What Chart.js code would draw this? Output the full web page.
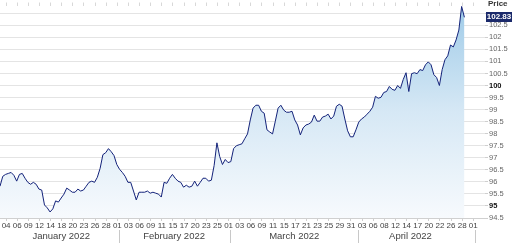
<!DOCTYPE html>
<html lang="en">
<head>
    <meta charset="UTF-8">
    <title>Price - January to April 2022</title>
    <script src="https://cdn.jsdelivr.net/npm/chart.js"></script>
    <style>
        body {
            margin: 0;
            padding: 0;
            background: #ffffff;
            font-family: "Liberation Sans", Arial, sans-serif;
        }
        .wrap {
            position: relative;
            width: 512px;
            height: 243px;
        }
        .price-title {
            position: absolute;
            left: 488px;
            top: -1px;
            font-size: 8px;
            font-weight: bold;
            color: #333;
        }
        .last-box {
            position: absolute;
            left: 486px;
            width: 26px;
            height: 10px;
            line-height: 10px;
            background: #1b2a6b;
            color: #fff;
            font-size: 8px;
            font-weight: bold;
            text-align: center;
        }
    </style>
</head>
<body>
<div class="wrap">
    <canvas id="chart"></canvas>
    <div class="price-title">Price</div>
    <div id="last" class="last-box">102.83</div>
</div>
<script>
    // trading-day axis: one unit = one trading day, data sampled every half day
    const startDay = -0.5;
    const stepDays = 0.5;
    const prices = [
        95.82, 96.23, 96.31, 96.35, 96.39, 96.27, 96.03, 96.31, 96.35, 96.15,
        95.98, 95.90, 95.98, 95.90, 95.70, 95.66, 95.04, 94.92, 94.75, 94.88,
        95.21, 95.16, 95.33, 95.49, 95.74, 95.66, 95.57, 95.57, 95.70, 95.62,
        95.66, 95.82, 95.98, 96.03, 95.98, 96.19, 96.56, 97.13, 97.21, 97.38,
        97.25, 97.09, 96.72, 96.52, 96.39, 96.23, 95.98, 95.98, 95.62, 95.25,
        95.57, 95.57, 95.57, 95.62, 95.53, 95.57, 95.53, 95.49, 95.37, 95.98,
        95.94, 96.15, 96.31, 96.15, 96.03, 95.98, 95.78, 95.86, 95.78, 95.82,
        96.03, 95.82, 95.98, 96.15, 96.15, 96.03, 96.07, 96.68, 97.62, 97.05,
        96.72, 96.93, 96.80, 96.84, 97.38, 97.50, 97.54, 97.58, 97.79, 97.99,
        98.57, 99.06, 99.18, 99.18, 98.93, 98.85, 98.16, 98.07, 97.99, 98.52,
        99.06, 99.18, 98.98, 98.89, 98.89, 98.93, 98.57, 98.36, 97.95, 98.24,
        98.36, 98.40, 98.48, 98.77, 98.52, 98.52, 98.69, 98.73, 98.81, 98.61,
        98.73, 99.14, 99.22, 99.14, 98.61, 98.12, 97.87, 97.87, 98.16, 98.48,
        98.61, 98.69, 98.81, 98.93, 99.10, 99.55, 99.47, 99.51, 99.71, 99.75,
        99.96, 99.84, 99.80, 100.00, 99.88, 100.25, 100.53, 99.75, 100.49, 100.53,
        100.49, 100.66, 100.62, 100.86, 100.98, 100.86, 100.45, 100.33, 100.00, 100.66,
        101.07, 101.23, 101.68, 101.60, 101.89, 102.30, 103.28, 102.83
    ];
    const lastPrice = 102.83;

    const dayLabels = ['04','06','09','12','14','18','20','23','26','28',
                       '01','03','06','09','11','15','17','20','23','25',
                       '01','03','06','09','11','15','17','21','23','25','29','31',
                       '03','06','08','12','14','17','20','22','26','28',
                       '01'];
    const firstLabelDay = 0.6;
    const months = ['January 2022', 'February 2022', 'March 2022', 'April 2022'];
    const monthCenters = [10.5, 30.8, 52.4, 73.3];
    const monthEdges = [21, 41, 64, 85];
    const boldPrices = [95, 100];

    const yMin = 94.5, yMax = 103.32, yStep = 0.5;
    const xMin = -0.5, xMax = 86.7;

    const points = prices.map((p, i) => ({ x: startDay + i * stepDays, y: p }));
    const dayTicks = dayLabels.map((l, i) => firstLabelDay + i * 2);
    const monthTicks = monthCenters.concat(monthEdges).sort((a, b) => a - b);

    const FONT = '"Liberation Sans", Arial, sans-serif';
    const isBold = (ctx) => !!(ctx && ctx.tick && boldPrices.includes(ctx.tick.value));

    const lastLabel = {
        id: 'lastLabel',
        afterDraw(chart) {
            const y = chart.scales.y.getPixelForValue(lastPrice);
            document.getElementById('last').style.top = (y - 5) + 'px';
        }
    };

    new Chart(document.getElementById('chart'), {
        type: 'line',
        data: {
            datasets: [{
                data: points,
                borderColor: '#14237a',
                borderWidth: 1,
                pointRadius: 0,
                tension: 0,
                fill: 'start',
                backgroundColor: (ctx) => {
                    const area = ctx.chart.chartArea;
                    if (!area) return 'rgba(200,225,242,0.5)';
                    const g = ctx.chart.ctx.createLinearGradient(0, area.top, 0, area.bottom);
                    g.addColorStop(0, '#9fcbe8');
                    g.addColorStop(0.5, '#d6e8f5');
                    g.addColorStop(1, '#f7fafd');
                    return g;
                }
            }]
        },
        options: {
            animation: false,
            responsive: true,
            maintainAspectRatio: false,
            layout: { padding: 0 },
            plugins: {
                legend: { display: false },
                tooltip: { enabled: false }
            },
            scales: {
                x: {
                    type: 'linear',
                    position: 'bottom',
                    weight: 0,
                    min: xMin,
                    max: xMax,
                    afterBuildTicks: (s) => { s.ticks = dayTicks.map(v => ({ value: v })); },
                    afterFit: (s) => { s.height = 12; },
                    grid: { drawOnChartArea: false, tickLength: 3, color: '#cfcfcf' },
                    border: { display: true, color: '#d0d0d0' },
                    ticks: {
                        autoSkip: false,
                        maxRotation: 0,
                        padding: 0,
                        color: '#444',
                        font: { family: FONT, size: 8 },
                        callback: (v, i) => dayLabels[i]
                    }
                },
                month: {
                    type: 'linear',
                    position: 'bottom',
                    weight: 1,
                    min: xMin,
                    max: xMax,
                    afterBuildTicks: (s) => { s.ticks = monthTicks.map(v => ({ value: v })); },
                    afterFit: (s) => { s.height = 13; },
                    grid: {
                        drawOnChartArea: false,
                        tickLength: 13,
                        tickColor: (ctx) => (ctx && ctx.tick && monthEdges.includes(ctx.tick.value)) ? '#c8c8c8' : 'rgba(0,0,0,0)'
                    },
                    border: { display: false },
                    ticks: {
                        autoSkip: false,
                        maxRotation: 0,
                        padding: -12,
                        color: '#444',
                        font: { family: FONT, size: 9.5 },
                        callback: (v) => {
                            const i = monthCenters.indexOf(v);
                            return i >= 0 ? months[i] : '';
                        }
                    }
                },
                top: {
                    type: 'linear',
                    position: 'top',
                    min: xMin,
                    max: xMax,
                    afterBuildTicks: (s) => { s.ticks = dayTicks.map(v => ({ value: v })); },
                    afterFit: (s) => { s.height = 3; },
                    grid: { drawOnChartArea: false, tickLength: 3, color: '#d8d8d8' },
                    border: { display: false },
                    ticks: { display: false }
                },
                y: {
                    position: 'right',
                    min: yMin,
                    max: yMax,
                    afterBuildTicks: (s) => {
                        const t = [];
                        for (let v = yMin; v <= 103 + 1e-9; v += yStep) t.push({ value: Math.round(v * 10) / 10 });
                        s.ticks = t;
                    },
                    afterFit: (s) => { s.width = 27; },
                    grid: { color: '#e4e4e4', tickLength: 3, tickColor: '#cfcfcf' },
                    border: { display: false },
                    ticks: {
                        autoSkip: false,
                        padding: 1,
                        color: (ctx) => isBold(ctx) ? '#111' : '#666',
                        font: (ctx) => ({ family: FONT, size: 7.5, weight: isBold(ctx) ? 'bold' : 'normal' }),
                        callback: (v) => v === 103 ? '' : String(v)
                    }
                }
            }
        },
        plugins: [lastLabel]
    });
</script>
</body>
</html>
